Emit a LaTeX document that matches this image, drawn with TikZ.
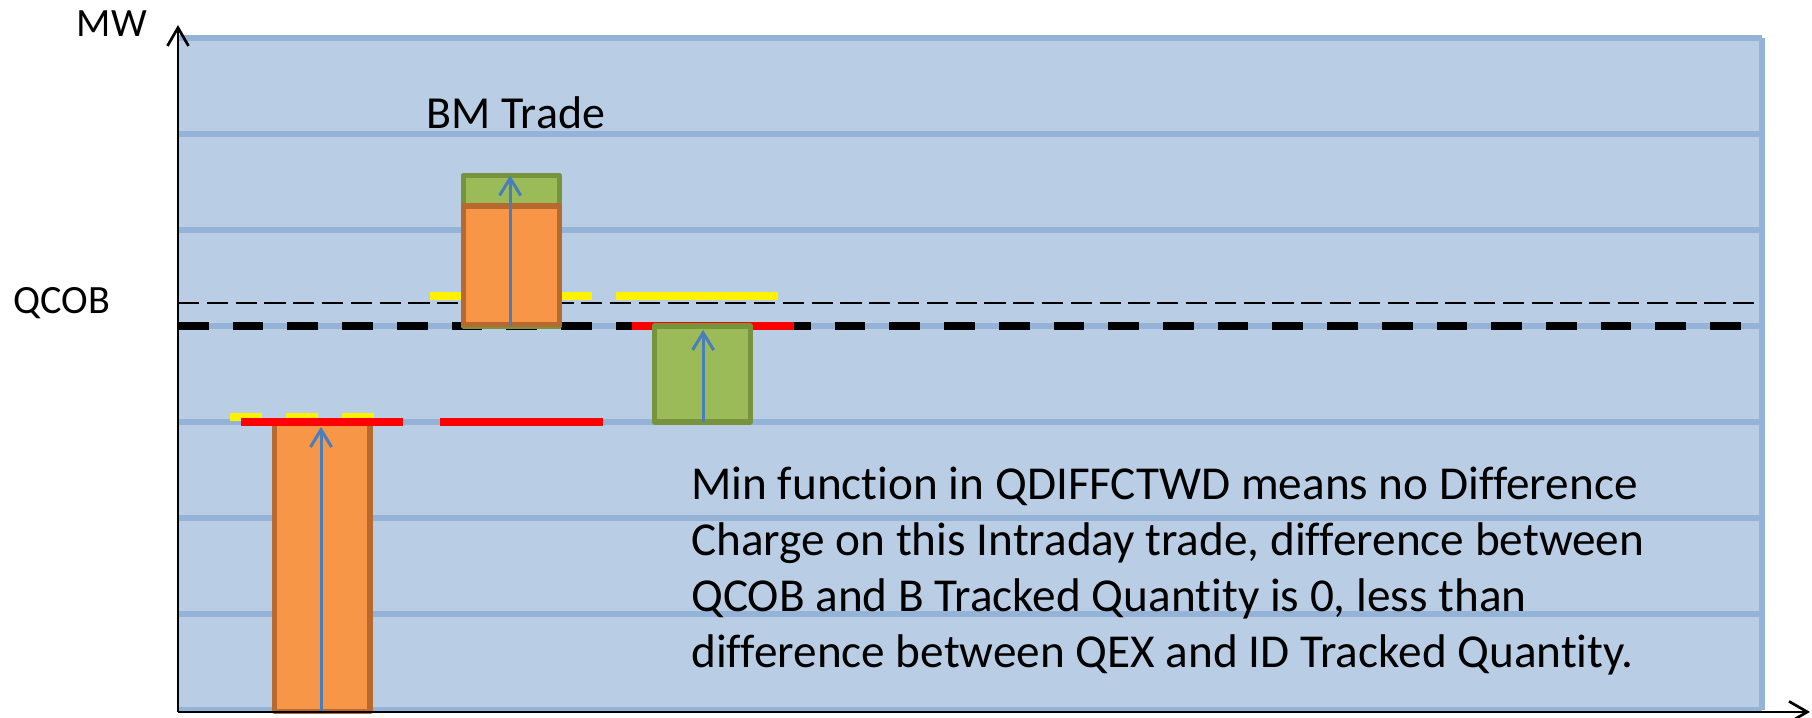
\documentclass[tikz,border=0pt]{standalone}
\usepackage{fontspec}
\setmainfont{Carlito}[RawFeature=-liga]
\usetikzlibrary{arrows.meta}
\definecolor{chartbg}{HTML}{B9CDE5}
\definecolor{gridblue}{HTML}{95B3D7}
\definecolor{barorange}{HTML}{F79646}
\definecolor{orangeedge}{HTML}{B7692F}
\definecolor{bargreen}{HTML}{9BBB59}
\definecolor{greenedge}{HTML}{77933C}
\definecolor{arrowblue}{HTML}{4A7EBB}
\begin{document}
\begin{tikzpicture}[
  gridline/.style={draw=gridblue,line width=1.5pt},
  level/.style={line width=2.4pt},
  bar/.style={line width=1.5pt,line join=round},
  flow/.style={draw=arrowblue,line width=0.9pt,-{Straight Barb[length=1.8mm,width=2.2mm]}},
  axis/.style={line width=0.8pt,-{Straight Barb[length=1.9mm,width=2.2mm]}},
  lbl/.style={font=\fontsize{11.9}{14}\selectfont},
  big/.style={font=\fontsize{13.6}{16.5}\selectfont}]
 \useasboundingbox (-1.854,-0.073) rectangle (17.021,7.396);
 % chart area
 \fill[chartbg](0,0) rectangle (16.5,7);
 \foreach \y in {1,...,7} \draw[gridline](0,\y)--(16.5,\y);
 \draw[gridline](16.5,0)--(16.5,7);
 \draw[gridline](0,0)--(16.5,0);
 % intraday trade
 \draw[bar,draw=orangeedge,fill=barorange](1.01,-0.02) rectangle (2.0,3.0);
 % QCOB levels
 \draw[line width=0.75pt,dash pattern=on 0.22cm off 0.08cm](0,4.24)--(16.5,4.24);
 \draw[level,yellow](2.63,4.31)--(4.31,4.31);
 \draw[level,yellow](4.56,4.31)--(6.25,4.31);
 \draw[level,yellow,dash pattern=on 0.333cm off 0.25cm](0.54,3.05)--(2.04,3.05);
 \draw[line width=2.1pt,dash pattern=on 0.32cm off 0.25cm](0,4.0)--(16.5,4.0);
 \draw[level,red](0.66,3.0)--(2.34,3.0);
 \draw[level,red](2.73,3.0)--(4.43,3.0);
 \draw[level,red](4.73,4.0)--(6.42,4.0);
 % BM trade
 \draw[bar,draw=greenedge,fill=bargreen](2.97,4.0) rectangle (3.97,5.57);
 \draw[bar,draw=orangeedge,fill=barorange](2.97,4.02) rectangle (3.97,5.25);
 \draw[bar,draw=greenedge,fill=bargreen](4.96,3.0) rectangle (5.96,4.0);
 % volumes
 \draw[flow](1.49,-0.02)--(1.49,2.95);
 \draw[flow](3.46,4.0)--(3.46,5.57);
 \draw[flow](5.47,3.0)--(5.47,3.96);
 % axes
 \draw[axis](0,-0.02)--(0,7.135);
 \draw[axis](0,-0.02)--(17.0,-0.02);
 \node[lbl] (mw) at (-0.69,7.15) {MW};
 \node[lbl] (qcob) at (-1.21,4.24) {QCOB};
 \node[big] (bm) at (3.52,6.22) {BM Trade};
 \node[font=\fontsize{14}{16.5}\selectfont,anchor=base west,align=left,inner sep=0pt] (note) at (5.34,0.448)
  {Min function in QDIFFCTWD means no Difference\\
   Charge on this Intraday trade, difference between\\
   QCOB and B Tracked Quantity is 0, less than\\
   difference between QEX and ID Tracked Quantity.};
\end{tikzpicture}
\end{document}
